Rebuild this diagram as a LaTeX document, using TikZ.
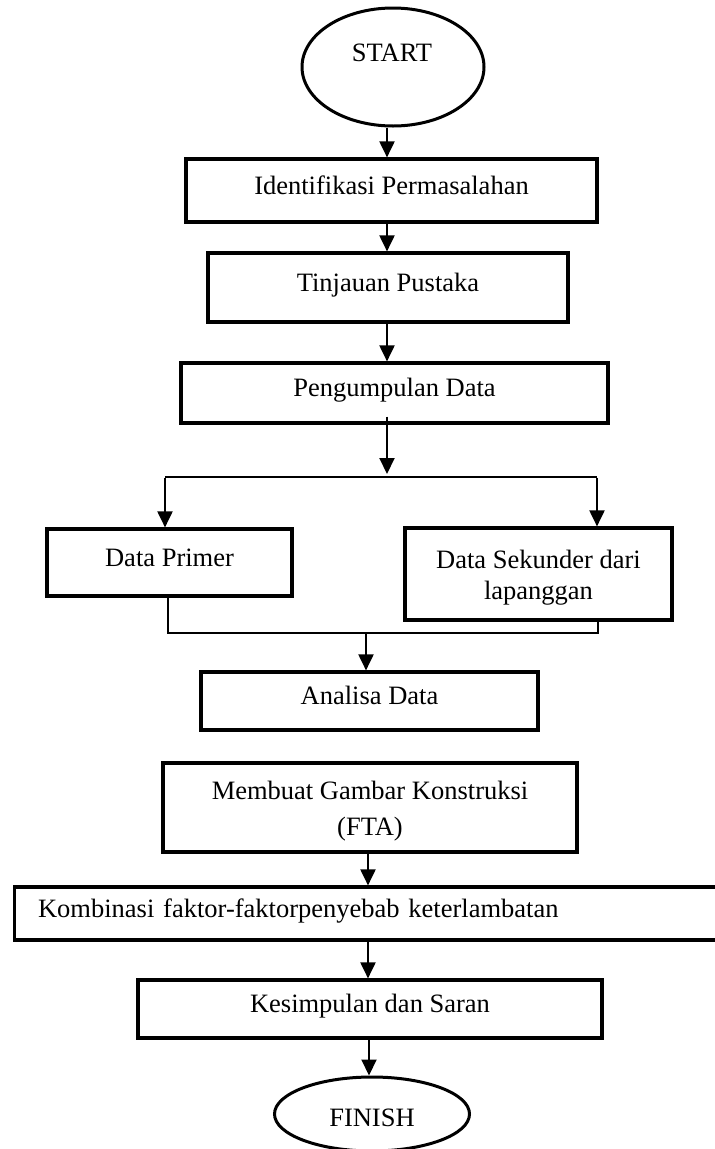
\documentclass[tikz,border=0pt]{standalone}
\usepackage{fontspec}
\setmainfont{Liberation Serif}
\usetikzlibrary{shapes.geometric,arrows.meta}
\begin{document}
\begin{tikzpicture}[x=1pt,y=-1pt,
  txt/.style={font=\fontsize{26.5}{31}\selectfont, text=black},
  stepbox/.style={txt, draw=black, line width=3.2pt, rectangle, inner sep=0pt, align=center},
  oneline/.style={text height=0.86em, text depth=0.1em},
  term/.style={draw=black, line width=3pt, ellipse, inner sep=0pt},
  arr/.style={line width=2pt, -{Triangle[width=15pt,length=16pt]}},
  thinline/.style={line width=1.2pt}]
\useasboundingbox (0,0) rectangle (715,1149);
\fill[white] (0,0) rectangle (715,1149);

% terminals
\node[term, minimum width=182pt, minimum height=118pt] (start) at (393,67) {};
\node[txt] (starttxt) at (392,53) {START};
\node[term, minimum width=195pt, minimum height=74pt] (finish) at (372,1114) {};
\node[txt] (finishtxt) at (372,1118) {FINISH};

% boxes
\node[stepbox, oneline, minimum width=411pt, minimum height=63pt] (b1) at (391.5,190.5) {Identifikasi Permasalahan};
\node[stepbox, oneline, minimum width=360pt, minimum height=69pt] (b2) at (388,287.5) {Tinjauan Pustaka};
\node[stepbox, oneline, minimum width=427pt, minimum height=60pt] (b3) at (394.5,393) {Pengumpulan Data};
\node[stepbox, oneline, minimum width=245pt, minimum height=67pt] (dp) at (169.5,562.5) {Data Primer};
\node[stepbox, minimum width=267pt, minimum height=92pt] (ds) at (538.5,574) {\rule{0pt}{26pt}Data Sekunder dari\\lapanggan};
\node[stepbox, minimum width=414pt, minimum height=89pt] (mg) at (370,807.5) {\rule{0pt}{26pt}Membuat Gambar Konstruksi\\[5pt](FTA)};
\node[stepbox, oneline, anchor=west, minimum width=727pt, minimum height=53pt, text width=680pt, align=left] (kf) at (13,913.5) {Kombinasi faktor-faktorpenyebab keterlambatan};
\node[stepbox, oneline, minimum width=337pt, minimum height=58pt] (an) at (369.5,701) {Analisa Data};
\node[stepbox, oneline, minimum width=464pt, minimum height=58pt] (ks) at (370,1009) {Kesimpulan dan Saran};

% helper coordinates
\coordinate (c1) at (387,0);
\coordinate (c2) at (368,0);
\coordinate (c3) at (369,0);
\coordinate (splitin) at (387,474);
\coordinate (splitL) at (165,477);
\coordinate (splitR) at (597,477);
\coordinate (m1) at (168,633);
\coordinate (m2) at (598,633);
\coordinate (m3) at (366,633);

% connectors
\draw[arr] (start.south -| c1) -- (b1.north -| c1);
\draw[arr] (b1.south -| c1) -- (b2.north -| c1);
\draw[arr] (b2.south -| c1) -- (b3.north -| c1);
\draw[arr] ([yshift=8pt]b3.south -| c1) -- (splitin);
\draw[thinline] (splitL) -- (splitR);
\draw[arr] ([yshift=-0.6pt]splitL) -- (dp.north -| splitL);
\draw[arr] ([yshift=-0.6pt]splitR) -- (ds.north -| splitR);
\draw[thinline] (dp.south -| m1) -- (m1) -- (m2) -- (ds.south -| m2);
\draw[arr] ([yshift=-0.6pt]m3) -- (an.north -| m3);
\draw[arr] (mg.south -| c2) -- (kf.north -| c2);
\draw[arr] (kf.south -| c2) -- (ks.north -| c2);
\draw[arr] (ks.south -| c3) -- (finish.north -| c3);
\end{tikzpicture}
\end{document}
